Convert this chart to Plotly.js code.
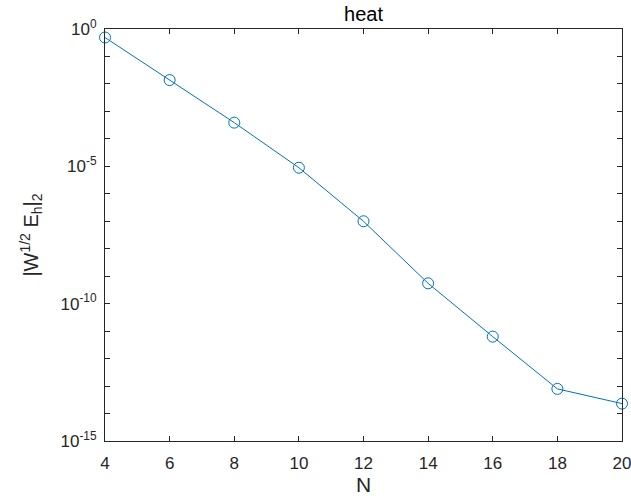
<!DOCTYPE html>
<html><head><meta charset="utf-8">
<script src="https://cdn.plot.ly/plotly-3.0.1.min.js"></script>
<style>html,body{margin:0;padding:0;background:#fff;}#plot{width:631px;height:502px;}</style>
</head><body><div id="plot"></div>
<script>
const N = [4, 6, 8, 10, 12, 14, 16, 18, 20];
const err = [0.49, 1.38e-2, 3.9e-4, 8.9e-6, 1.0e-7, 5.5e-10, 6.3e-12, 7.9e-14, 2.3e-14];
const yMajorExp = [0, -5, -10, -15];
const yMinorExp = [-1, -2, -3, -4, -6, -7, -8, -9, -11, -12, -13, -14];
const yTickVals = yMajorExp.map(e => Math.pow(10, e));
const yTickText = yMajorExp.map(e => '10<sup>' + e + '</sup>');
const yMinorVals = yMinorExp.map(e => Math.pow(10, e));
const xTicks = [4, 6, 8, 10, 12, 14, 16, 18, 20];
const axisColor = '#262626';
const trace = {
  x: N, y: err, type: 'scatter', mode: 'lines+markers',
  line: {color: '#0072BD', width: 1},
  marker: {symbol: 'circle-open', size: 11, color: '#0072BD', line: {width: 1, color: '#0072BD'}},
  showlegend: false, cliponaxis: false
};
const layout = {
  width: 631, height: 502,
  margin: {l: 105, r: 9, t: 29, b: 61, pad: 0},
  paper_bgcolor: '#fff', plot_bgcolor: '#fff',
  font: {family: 'Liberation Sans, Arial, sans-serif', size: 17, color: axisColor},
  title: {text: 'heat', x: 363.5 / 631, xanchor: 'center', xref: 'container', y: 1 - 14 / 502, yanchor: 'middle', font: {size: 20, color: '#000'}},
  xaxis: {
    range: [4, 20], tickvals: xTicks, ticktext: xTicks.map(String),
    ticks: 'inside', ticklen: 5, tickcolor: axisColor, showgrid: false, zeroline: false,
    showline: true, linecolor: axisColor, linewidth: 1, mirror: 'ticks',
    ticklabelstandoff: 7, ticklabeloverflow: 'allow',
    title: {text: 'N', font: {size: 21}, standoff: 3},
    tickfont: {size: 17}
  },
  yaxis: {
    type: 'log', range: [-15, 0], tickvals: yTickVals, ticktext: yTickText,
    ticks: 'inside', ticklen: 5, tickcolor: axisColor, showgrid: false, zeroline: false,
    minor: {tickvals: yMinorVals, ticks: 'inside', ticklen: 5, tickcolor: axisColor, showgrid: false},
    showline: true, linecolor: axisColor, linewidth: 1, mirror: 'ticks',
    ticklabelstandoff: 4, ticklabeloverflow: 'allow',
    title: {text: '|W<sup>1/2</sup> E<sub>h</sub>|<sub>2</sub>', font: {size: 20}, standoff: 16},
    tickfont: {size: 17}
  }
};
Plotly.newPlot('plot', [trace], layout, {staticPlot: true, displayModeBar: false});
</script></body></html>
